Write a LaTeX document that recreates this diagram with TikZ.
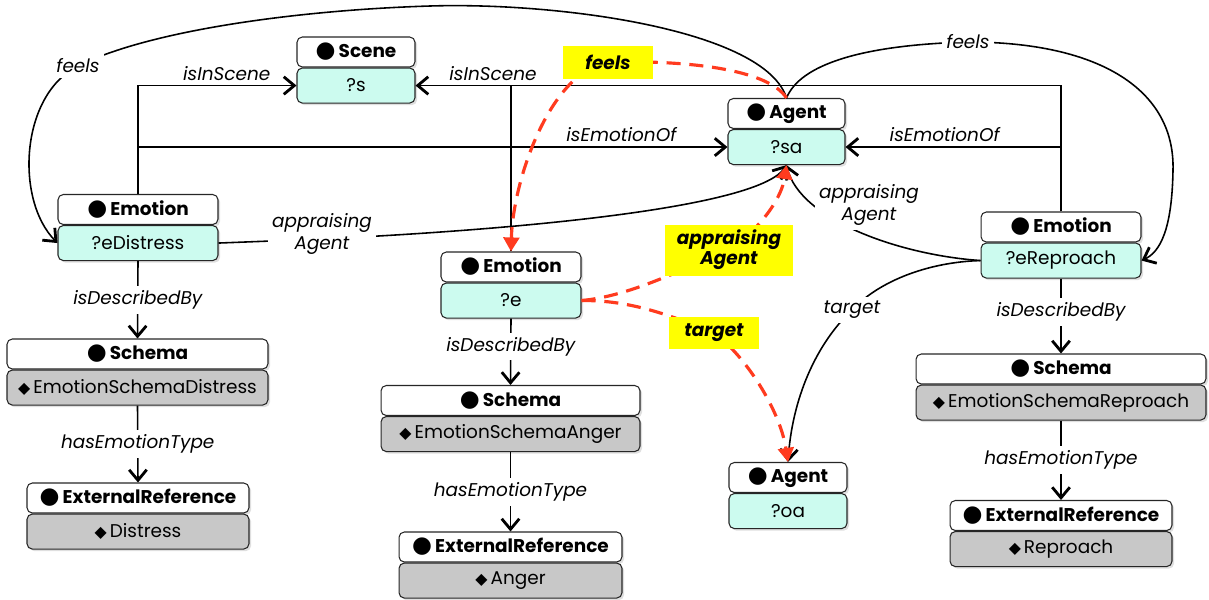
\documentclass[tikz,border=0pt]{standalone}
\usepackage{fontspec}
\setmainfont{Poppins}
\newfontfamily\symfont{DejaVu Sans}
\usepackage{tikz}
\usetikzlibrary{positioning, arrows.meta, shadows}

\definecolor{instcol}{HTML}{CCFBEF}
\definecolor{litcol}{HTML}{C8C8C8}
\definecolor{hired}{HTML}{FF3B1F}
\definecolor{hiyellow}{HTML}{FFFF00}

\newcommand{\clsname}[1]{{\symfont\fontsize{13}{12}\selectfont ●}\,#1}
\newcommand{\litval}[1]{{\symfont\fontsize{9}{12}\selectfont ◆}\,#1}

\tikzset{
  box/.style={draw=black!85, line width=0.6pt, rounded corners=3pt, inner sep=0pt,
    drop shadow={shadow xshift=1.2pt, shadow yshift=-1.2pt, opacity=0.25}},
  hdr/.style={box, fill=white, minimum height=0.6cm, font=\fontsize{10.5}{12}\selectfont\bfseries},
  inst/.style={box, fill=instcol, minimum height=0.7cm, font=\fontsize{10.5}{12}\selectfont},
  lit/.style={box, fill=litcol, minimum height=0.7cm, font=\fontsize{10.5}{12}\selectfont},
  lbl/.style={fill=white, inner sep=2.5pt, align=center, font=\fontsize{10.5}{12.5}\selectfont\itshape},
  hilite/.style={fill=hiyellow, inner sep=0pt, align=center, font=\fontsize{10.5}{9.5}\selectfont\bfseries\itshape},
  arr/.style={line width=0.9pt, -{Straight Barb[length=6pt, width=10pt, line width=1.6pt]}},
  redarr/.style={draw=hired, line width=1.8pt, dash pattern=on 8pt off 5pt,
    -{Triangle[length=8pt, width=9pt]}},
}

\begin{document}
\begin{tikzpicture}[x=0.02cm, y=-0.02cm]
\useasboundingbox (0,0) rectangle (1209,599);

% ------------------------------------------------------------
% Class boxes (header + value)
% ------------------------------------------------------------
\node[hdr, minimum width=2.36cm] (sceneH) at (356,52) {\clsname{Scene}};
\node[inst, minimum width=2.36cm, below=0pt of sceneH] (sceneB) {?s};

\node[hdr, minimum width=2.34cm] (saH) at (786.5,113.5) {\clsname{Agent}};
\node[inst, minimum width=2.34cm, below=0pt of saH] (saB) {?sa};

\node[hdr, minimum width=3.2cm] (edH) at (138,209.5) {\clsname{Emotion}};
\node[inst, minimum width=3.2cm, below=0pt of edH] (edB) {?eDistress};

\node[hdr, minimum width=2.8cm] (eH) at (511,267) {\clsname{Emotion}};
\node[inst, minimum width=2.8cm, below=0pt of eH] (eB) {?e};

\node[hdr, minimum width=3.2cm] (erH) at (1061,227) {\clsname{Emotion}};
\node[inst, minimum width=3.2cm, below=0pt of erH] (erB) {?eReproach};

\node[hdr, minimum width=2.36cm] (oaH) at (788,477.5) {\clsname{Agent}};
\node[inst, minimum width=2.36cm, below=0pt of oaH] (oaB) {?oa};

% schemas
\node[hdr, minimum width=5.22cm] (schDH) at (137.5,354) {\clsname{Schema}};
\node[lit, minimum width=5.22cm, below=0pt of schDH] (schDB) {\litval{EmotionSchemaDistress}};

\node[hdr, minimum width=5.18cm] (schAH) at (510.5,400.5) {\clsname{Schema}};
\node[lit, minimum width=5.18cm, below=0pt of schAH] (schAB) {\litval{EmotionSchemaAnger}};

\node[hdr, minimum width=5.8cm] (schRH) at (1061,369) {\clsname{Schema}};
\node[lit, minimum width=5.8cm, below=0pt of schRH] (schRB) {\litval{EmotionSchemaReproach}};

% external references
\node[hdr, minimum width=4.44cm] (extDH) at (138,498) {\clsname{ExternalReference}};
\node[lit, minimum width=4.44cm, below=0pt of extDH] (extDB) {\litval{Distress}};

\node[hdr, minimum width=4.46cm] (extAH) at (510.5,547) {\clsname{ExternalReference}};
\node[lit, minimum width=4.46cm, below=0pt of extAH] (extAB) {\litval{Anger}};

\node[hdr, minimum width=4.44cm] (extRH) at (1061,515.5) {\clsname{ExternalReference}};
\node[lit, minimum width=4.44cm, below=0pt of extRH] (extRB) {\litval{Reproach}};

% ------------------------------------------------------------
% isInScene / isEmotionOf
% ------------------------------------------------------------
\draw[arr] (edH.north) |- node[lbl, above, pos=0.78, fill=none] {isInScene} (sceneB.west);
\draw[arr] (edH.north) |- node[lbl, above, pos=0.91, fill=none] {isEmotionOf} (saB.west);
\draw[arr] (erH.north) |- node[lbl, above, pos=0.94, fill=none] {isInScene} (sceneB.east);
\draw[arr] (erH.north) |- node[lbl, above, pos=0.77, fill=none] {isEmotionOf} (saB.east);
\draw[line width=0.9pt] (eH.north) -- (eH.north |- sceneB.east);

% isDescribedBy / hasEmotionType
\draw[arr] (edB.south) -- node[lbl] {isDescribedBy} (schDH.north);
\draw[arr] (eB.south) -- node[lbl, pos=0.42] {isDescribedBy} (schAH.north);
\draw[arr] (erB.south) -- node[lbl, pos=0.45] {isDescribedBy} (schRH.north);
\draw[arr] (schDB.south) -- node[lbl] {hasEmotionType} (extDH.north);
\draw[arr] (schAB.south) -- node[lbl] {hasEmotionType} (extAH.north);
\draw[arr] (schRB.south) -- node[lbl] {hasEmotionType} (extRH.north);

% ------------------------------------------------------------
% feels / appraisingAgent / target
% ------------------------------------------------------------
\coordinate (fl) at (78,66);
\coordinate (fr) at (968,42);
\coordinate (al) at (322,239);
\coordinate (tl) at (852,310);

\draw[arr] (saH.north) .. controls (765,30) and (560,2) .. (430,6)
  .. controls (300,10) and (150,30) .. (fl)
  .. controls (20,95) and (15,200) .. (edB.west);
\draw[arr] (saH.north) .. controls (800,65) and (860,45) .. (fr)
  .. controls (1100,42) and (1175,90) .. (1173,170)
  .. controls (1172,230) and (1160,252) .. (erB.east);
\draw[arr] (edB.east) -- (al) .. controls (550,228) and (760,205) .. (saB.south);
\draw[arr] (erB.west) .. controls (900,255) and (800,220) .. (saB.south);
\draw[arr] (erB.west) .. controls (930,262) and (880,280) .. (tl)
  .. controls (815,345) and (792,400) .. (oaH.north);

\node[lbl] (feelsL) at (fl) {feels};
\node[lbl] (feelsR) at (fr) {feels};
\node[lbl] (apprL) at (322,234) {appraising\\Agent};
\node[lbl] (apprR) at (869,205) {appraising\\Agent};
\node[lbl] (targetL) at (tl) {target};

% ------------------------------------------------------------
% Highlighted (red) relations
% ------------------------------------------------------------
\coordinate (rf) at (608,62);
\coordinate (ra) at (729,250);
\coordinate (rt) at (714,333);

\draw[redarr] (saH.north) .. controls (770,72) and (700,60) .. (rf)
  .. controls (550,72) and (513,180) .. (eH.north);
\draw[redarr] (eB.east) .. controls (630,296) and (680,270) .. (ra)
  .. controls (765,225) and (782,195) .. (saB.south);
\draw[redarr] (eB.east) .. controls (630,300) and (670,315) .. (rt)
  .. controls (745,355) and (780,410) .. (oaH.north);

\node[hilite, minimum width=1.8cm, minimum height=0.66cm] (hiFeels) at (rf) {feels};
\node[hilite, minimum width=2.56cm, minimum height=1.02cm] (hiAppr) at (ra) {appraising\\Agent};
\node[hilite, minimum width=1.8cm, minimum height=0.64cm] (hiTarget) at (rt) {target};

\end{tikzpicture}
\end{document}
